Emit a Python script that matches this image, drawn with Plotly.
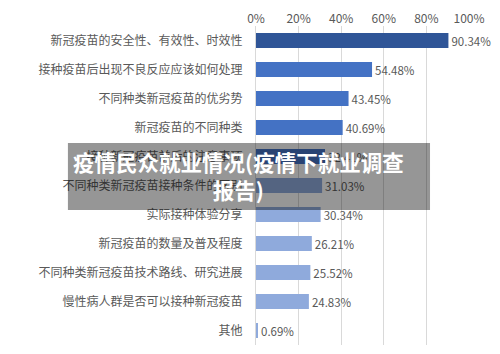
import plotly.graph_objects as go

categories = [
    "新冠疫苗的安全性、有效性、时效性",
    "接种疫苗后出现不良反应应该如何处理",
    "不同种类新冠疫苗的优劣势",
    "新冠疫苗的不同种类",
    "接种新冠疫苗前后的注意事项",
    "不同种类新冠疫苗接种条件的区别",
    "实际接种体验分享",
    "新冠疫苗的数量及普及程度",
    "不同种类新冠疫苗技术路线、研究进展",
    "慢性病人群是否可以接种新冠疫苗",
    "其他",
]
values = [90.34, 54.48, 43.45, 40.69, 32.41, 31.03, 30.34, 26.21, 25.52, 24.83, 0.69]
tick_vals = [0, 20, 40, 60, 80, 100]
tick_text = ["0%", "20%", "40%", "60%", "80%", "100%"]

DARK, MID, LIGHT = "#2F5597", "#4472C4", "#8FAADC"
colors = [DARK, MID, MID, MID, MID] + [LIGHT] * 6

font_family = "Noto Sans CJK SC, Microsoft YaHei, sans-serif"

fig = go.Figure(go.Bar(
    x=values, y=categories, orientation="h",
    marker=dict(color=colors, line=dict(width=0)),
    text=[f"{v:.2f}%" for v in values],
    textposition="outside",
    textfont=dict(size=11.5, color="#595959", family=font_family),
    cliponaxis=False, constraintext="none",
    hoverinfo="skip",
))

fig.update_layout(
    width=500, height=354,
    margin=dict(l=256, r=31, t=26, b=9),
    plot_bgcolor="white", paper_bgcolor="white",
    bargap=0.48, showlegend=False,
    font=dict(family=font_family, size=12, color="#595959"),
    xaxis=dict(
        side="top", range=[0, 100], tickvals=tick_vals, ticktext=tick_text,
        showgrid=True, gridcolor="#D9D9D9", gridwidth=1,
        zeroline=False, showline=False, ticks="",
        tickfont=dict(size=12, color="#595959"), fixedrange=True,
    ),
    yaxis=dict(
        autorange="reversed", showgrid=False, zeroline=False,
        showline=True, linecolor="#D9D9D9", linewidth=1,
        ticks="", ticklabelstandoff=10,
        tickfont=dict(size=12, color="#595959"), fixedrange=True,
    ),
)

# semi-transparent title banner overlay
fig.add_shape(
    type="rect", xref="paper", yref="paper",
    x0=-0.883, x1=0.817, y0=0.423, y1=0.633,
    fillcolor="rgba(0,0,0,0.41)", line=dict(width=0), layer="above",
)
fig.add_annotation(
    xref="paper", yref="paper", x=-0.083, y=0.53,
    xanchor="center", yanchor="middle",
    text="<b>疫情民众就业情况(疫情下就业调查<br>报告)</b>",
    showarrow=False, align="center",
    font=dict(size=21.5, color="white", family=font_family),
)

fig.write_html("out.html")
